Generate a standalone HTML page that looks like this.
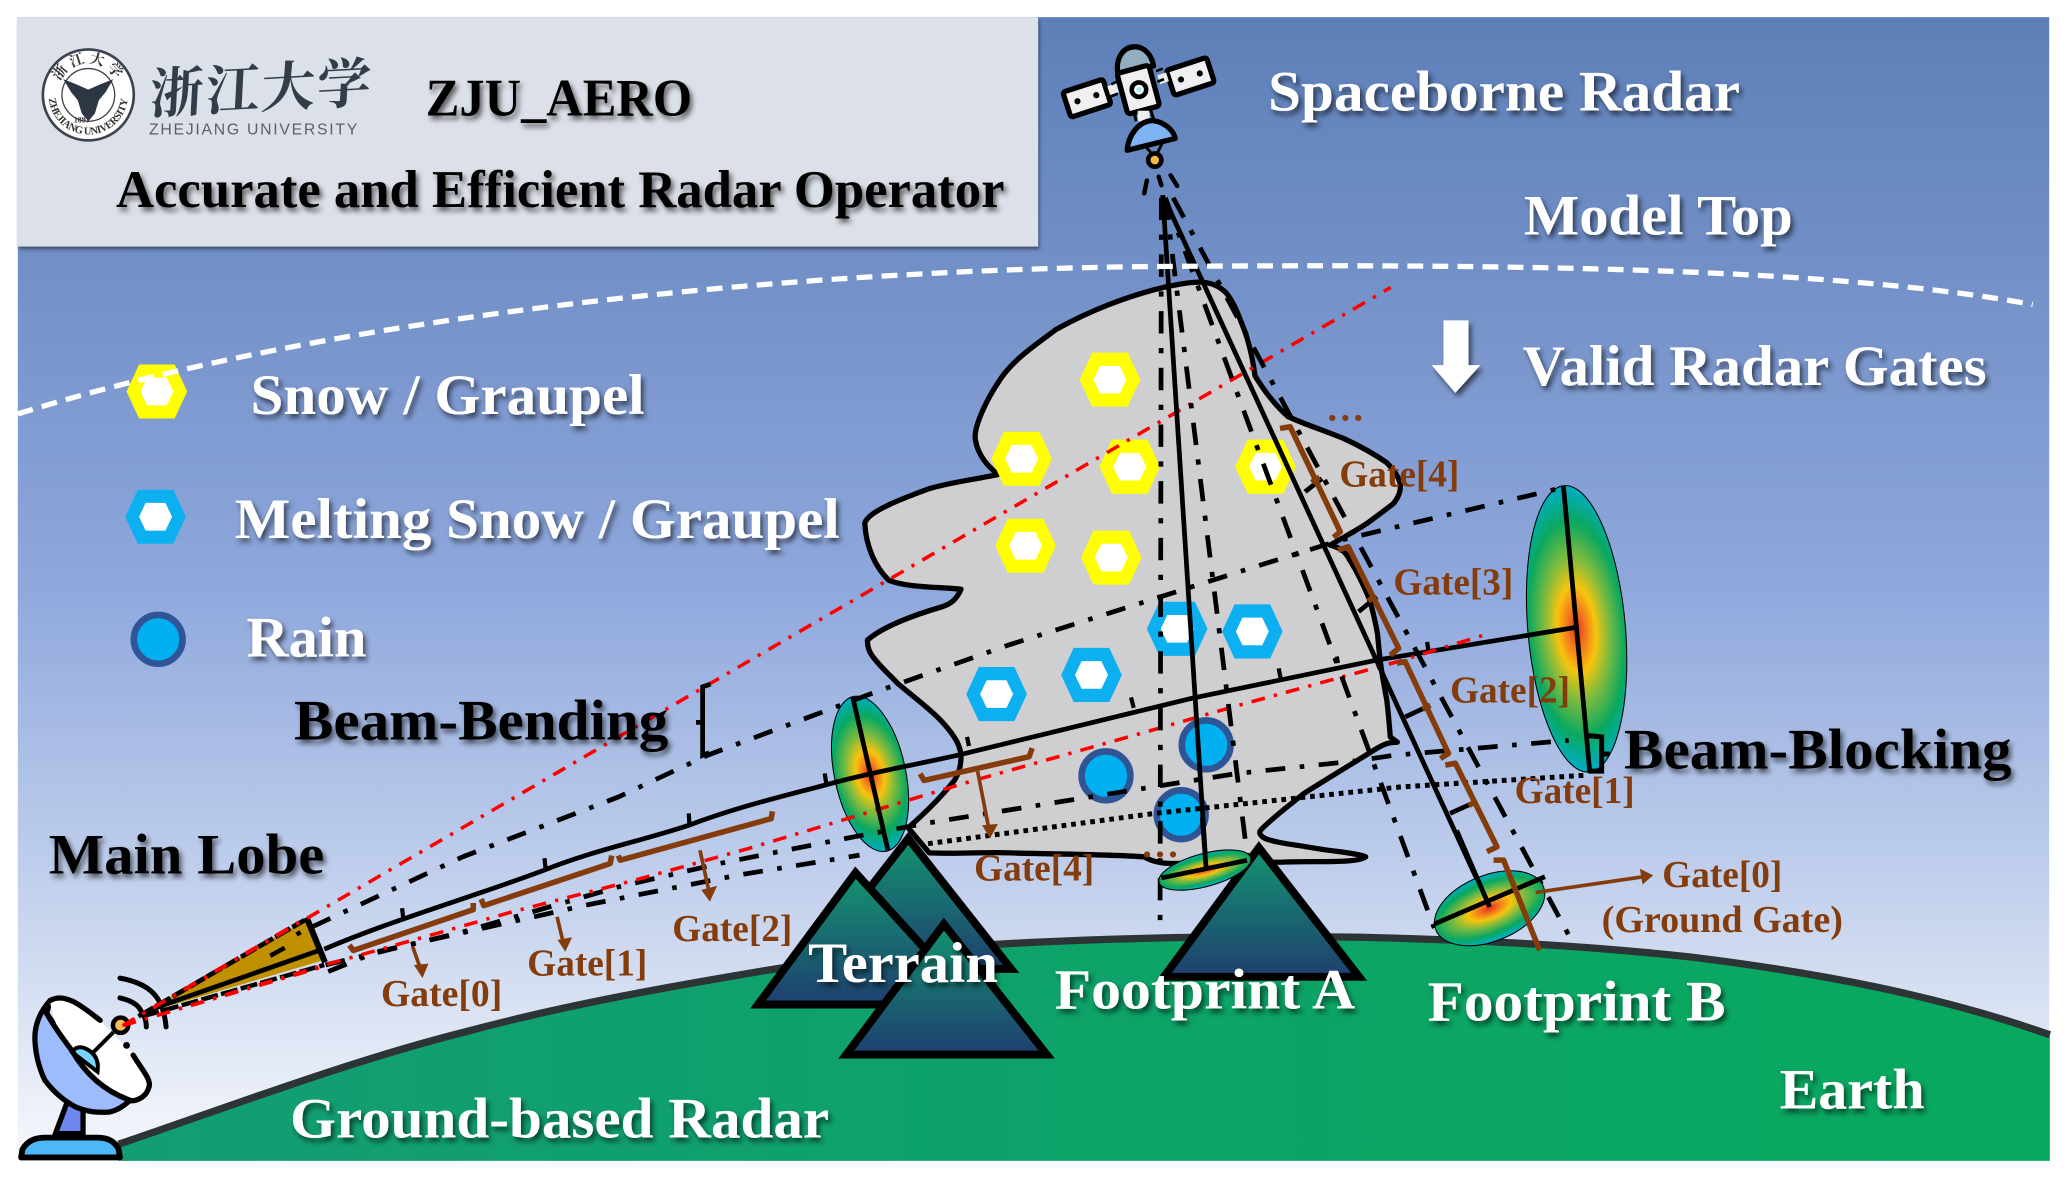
<!DOCTYPE html>
<html><head><meta charset="utf-8"><style>
html,body{margin:0;padding:0;background:#fff}
svg{display:block}
text{font-family:"Liberation Serif","Noto Serif CJK SC",serif;font-weight:bold}
.w{fill:#fff;filter:url(#ts)}
.k{fill:#000;filter:url(#ts)}
.g{fill:#843c0c;font-size:29px}
.br{fill:none;stroke:#843c0c;stroke-width:4.2;stroke-linejoin:round}
.ar{fill:none;stroke:#843c0c;stroke-width:2.8}
.dd{fill:none;stroke:#000;stroke-width:3.6;stroke-dasharray:15 11 3.5 11}
.dd2{fill:none;stroke:#000;stroke-width:3.6;stroke-dasharray:17 11 4 11}
.rd{fill:none;stroke:#f00;stroke-width:2.7;stroke-dasharray:10.5 7 2.5 7}
.sl{fill:none;stroke:#000;stroke-width:3.6}
</style></head><body>
<svg xmlns="http://www.w3.org/2000/svg" width="2067" height="1178" viewBox="0 0 1568 893.6">
<defs>
<linearGradient id="sky" x1="0" y1="0" x2="0" y2="1">
<stop offset="0" stop-color="#5d7fb8"/><stop offset=".27" stop-color="#7794cb"/><stop offset=".5" stop-color="#8fa8dd"/><stop offset=".75" stop-color="#c0cfec"/><stop offset="1" stop-color="#f6f8fc"/>
</linearGradient>
<linearGradient id="earth" x1="0" y1="0" x2="1" y2="0"><stop offset="0" stop-color="#139d74"/><stop offset="1" stop-color="#08a95e"/></linearGradient>
<linearGradient id="mt" x1="0" y1="0" x2="0" y2="1"><stop offset="0" stop-color="#13946f"/><stop offset="1" stop-color="#1f3f70"/></linearGradient>
<radialGradient id="rg" gradientTransform="translate(.5 .5) scale(1.3 1) translate(-.5 -.5)"><stop offset="0" stop-color="#e8301c"/><stop offset=".14" stop-color="#f2761e"/><stop offset=".3" stop-color="#f7c40e"/><stop offset=".5" stop-color="#7fbb3f"/><stop offset=".75" stop-color="#0aa85f"/><stop offset="1" stop-color="#00aec8"/></radialGradient>
<filter id="ts" x="-10%" y="-30%" width="120%" height="170%"><feDropShadow dx="2" dy="3" stdDeviation="2" flood-color="#000" flood-opacity=".6"/></filter>
<filter id="ps" x="-2%" y="-5%" width="104%" height="110%"><feDropShadow dx="1" dy="2" stdDeviation="1.2" flood-color="#223" flood-opacity=".6"/></filter>
<g id="hy"><polygon points="-23,0 -13.5,-20.5 13.5,-20.5 23,0 13.5,20.5 -13.5,20.5" fill="#ff0"/><polygon points="-12.5,0 -7.5,-10.5 7.5,-10.5 12.5,0 7.5,10.5 -7.5,10.5" fill="#fff"/></g>
<g id="hb"><polygon points="-23,0 -13.5,-20.5 13.5,-20.5 23,0 13.5,20.5 -13.5,20.5" fill="#0cb0f0"/><polygon points="-12.5,0 -7.5,-10.5 7.5,-10.5 12.5,0 7.5,10.5 -7.5,10.5" fill="#fff"/></g>
<path id="lc" d="M37 72 A30 30 0 0 0 97 72"/>
<path id="lt" d="M43 72 A24 24 0 0 1 91 72"/>
</defs>
<rect x="13.5" y="13" width="1541" height="867.6" fill="url(#sky)"/>
<!-- earth -->
<path d="M90 868 C 178 838 265 805 352 783 C 430 762 510 748 588 735 C 650 725 715 718 781 715 C 860 711 950 710 1032 711 C 1120 713 1200 717 1283 726 C 1380 738 1470 755 1555 785 L1555 880.6 L90 880.6Z" fill="url(#earth)"/>
<path d="M90 868 C 178 838 265 805 352 783 C 430 762 510 748 588 735 C 650 725 715 718 781 715 C 860 711 950 710 1032 711 C 1120 713 1200 717 1283 726 C 1380 738 1470 755 1555 785" fill="none" stroke="#2d3436" stroke-width="5.5"/>
<!-- panel -->
<rect x="13.5" y="13" width="774" height="174" fill="#dce1e9" filter="url(#ps)"/>
<!-- logo -->
<circle cx="67" cy="72" r="34.5" fill="#fff" stroke="#3a4450" stroke-width="2"/>
<circle cx="67" cy="72" r="20" fill="none" stroke="#3a4450" stroke-width="1"/>
<polygon points="48,60 58,64 67,68 76,64 86,60 80,70 75,76 72,86 67,92 62,86 59,76 54,70" fill="#2d3743"/>
<text font-size="8" fill="#333"><textPath href="#lc" startOffset="3%" textLength="88">ZHEJIANG UNIVERSITY</textPath></text>
<text font-size="11" fill="#333"><textPath href="#lt" startOffset="14%">浙 江 大 学</textPath></text>
<text x="56" y="93" font-size="6" fill="#333">1897</text>
<text transform="rotate(-3 112 86) skewX(-6)" x="122" y="86" font-size="41" fill="#333d49" textLength="168" lengthAdjust="spacing">浙江大学</text>
<text x="113" y="102" font-size="12" fill="#5a6068" textLength="158" style="font-family:'Liberation Sans',sans-serif;font-weight:normal">ZHEJIANG  UNIVERSITY</text>
<text class="k" x="323" y="87.5" font-size="40" textLength="202" lengthAdjust="spacingAndGlyphs">ZJU_AERO</text>
<text class="k" x="88" y="157" font-size="40" textLength="674" lengthAdjust="spacingAndGlyphs">Accurate and Efficient Radar Operator</text>
<!-- cloud -->
<path d="M885 217.5 C 856 224, 826 236, 801 250 C 785 262, 770 272, 760 286 C 748 303, 738 325, 740 334 C 742 346, 750 354, 757 360 C 738 364, 720 366, 704 371 C 685 378, 658 388, 656 397 C 657 415, 664 430, 674 440 C 688 446, 712 445, 729 447 C 726 454, 722 458, 714 460.5 C 695 466, 670 475, 658 485.6 C 658 492, 660 495, 662 498 C 668 506, 675 512, 681 518.5 C 695 530, 708 540, 716 549 C 724 558, 729 566, 729 574 C 729 582, 727 587, 724 592 C 713 606, 700 618, 689 628 L 705 647 C 730 648, 750 646, 767 647 C 800 648, 840 648, 868 650 C 875 654, 882 655, 889 655 L 973 654 C 1000 653, 1030 655, 1036 650 C 1030 647, 1010 646, 989 642 C 975 640, 962 638, 958 635 C 954 632, 956 630, 957 629 C 968 618, 978 611, 989 602 C 1008 590, 1028 578, 1044 568 C 1049 565, 1053 563, 1060 563 L 1054.6 559 C 1054 549, 1053 540, 1052 531 C 1049 515, 1047 505, 1045 481 C 1043 470, 1041 462, 1039 455 C 1034 443, 1029 433, 1024 425 C 1021 419, 1018 416, 1009 413.5 C 1020 407, 1028 403, 1037 397 C 1045 391, 1052 386, 1057 382 C 1062 376, 1063 371, 1062 366 C 1060 360, 1056 355, 1052 351 C 1042 344, 1031 338, 1019 332.5 C 1003 326, 990 322, 977 316 C 966 306, 958 295, 952 285 C 950 270, 947 258, 943 248 C 938 235, 935 228, 930 222 C 924 216, 917 214, 910 214 C 900 214, 893 216, 885 217.5Z" fill="#cfced0" stroke="#000" stroke-width="4" stroke-linejoin="round"/>
<!-- hexagons -->
<use href="#hy" x="119" y="297"/><use href="#hy" x="842" y="288"/><use href="#hy" x="775" y="348"/><use href="#hy" x="857" y="354"/><use href="#hy" x="960" y="354"/><use href="#hy" x="778" y="414"/><use href="#hy" x="843" y="423"/>
<use href="#hb" x="118" y="392"/><use href="#hb" x="756" y="526.5"/><use href="#hb" x="828" y="512"/><use href="#hb" x="893" y="477"/><use href="#hb" x="950" y="479"/>
<g fill="#00b0f0" stroke="#2f5597" stroke-width="5">
<ellipse cx="120" cy="485" rx="18.5" ry="18.5"/><ellipse cx="839" cy="588.5" rx="18.5" ry="18.5"/><ellipse cx="915" cy="565" rx="18.5" ry="18.5"/><ellipse cx="896" cy="618" rx="18.5" ry="18.5"/>
</g>
<!-- beam ellipses -->
<ellipse cx="660" cy="587" rx="27" ry="60" transform="rotate(-12 660 587)" fill="url(#rg)" stroke="#000" stroke-width=".8"/>
<ellipse cx="1196" cy="477" rx="37" ry="109" transform="rotate(-5 1196 477)" fill="url(#rg)" stroke="#000" stroke-width=".8"/>
<!-- main lobe -->
<polygon points="105,770 232.6,697 246.5,728" fill="#bf9000"/>
<path d="M232.6 696 L246.5 730" stroke="#000" stroke-width="4.6" fill="none"/>
<path d="M105 771 L231 698" fill="none" stroke="#000" stroke-width="3.6" stroke-dasharray="13 2"/>
<path d="M108 771 L246 732" fill="none" stroke="#000" stroke-width="3.4" stroke-dasharray="13 2.5"/>
<path d="M205 725 L216 719 M225 709 L228 707" stroke="#000" stroke-width="3.4"/>
<!-- beam lines -->
<polyline class="dd" points="237,703 351,650 469,604.6 537,572.8 664.6,524.8 764.8,489.4 956,428.7 1016,410 1185,370"/>
<polyline class="dd" points="247,732 351,707 469,672.8 546,655 636.4,637 702,624.6 867.7,598 938,586.8 1030,577 1057,573 1190,561.6"/>
<polyline class="dd" points="249,737 286,722 367,704 444,686.7 559,664 652,648.7"/>
<polyline points="704,640 876,617 1062,597 1204,588" fill="none" stroke="#000" stroke-width="3.8" stroke-dasharray="3.6 3.7"/>
<!-- solid main -->
<path class="sl" d="M113.8 766 L 242.7 720.8"/>
<path class="sl" d="M246 720 C 300 697, 360 680, 413 660 C 450 645 490 637 522.5 626 C 560 612 590 605 625.6 595.6 C 660 586 695 580 727 572.8 L 904 529.7 L 1044 500.8 L 1195 476"/>
<polyline class="rd" points="93,778 243,733 333,707.6 388.6,691.7 481.5,667.7 568,643.6 642.8,621 732,594 878.6,552.6 932.6,537 1060,502 1125,482"/>
<path class="rd" d="M93 778 L 1055 218"/>
<!-- ticks on main -->
<path d="M305 689 L306 697 M413 651 L414 660 M522.5 617 L523 626 M625.6 586.7 L627 595.6 M733.6 559 L735 566 M858 529 L860 537 M970 507 L971.5 514.6 M1082.6 487 L1083.5 493 M1014 498 L1015 503" stroke="#000" stroke-width="3.2" fill="none"/>
<!-- spaceborne beam -->
<path class="sl" d="M882 148 L 915 659"/>
<path class="dd2" d="M881 150 L 880 704"/>
<path class="dd2" d="M884 150 L 946 648"/>
<path class="sl" d="M884 152 L 1130 688"/>
<path class="dd2" d="M884 150 L 1088 704"/>
<path class="dd2" d="M890 150 L 1192 713"/>
<path d="M990 373 L1002.8 363 M1030.6 464 L1044.5 452.7 M1066 543.8 L1085 535 M1100 617 L1120 608 M1128 684 L1143 672" stroke="#000" stroke-width="3.6" fill="none"/>
<!-- axes of ellipses -->
<path class="sl" d="M646.8 528.6 L673.6 645 M1186 368.7 L1206 586" stroke-width="4"/>
<!-- model top -->
<path d="M13.5 314 C 250 240, 600 203, 900 202 C 1180 200, 1400 205, 1542 231" fill="none" stroke="#fff" stroke-width="4" stroke-dasharray="12 7"/>
<path d="M1205 558 L1215 559 L1215 585 L1205 585 M1215 572 L1221 572" fill="none" stroke="#000" stroke-width="3.8"/>
<!-- beam-bending brace -->
<path d="M539 519 L533 521 L533 573 L538 571 M533 548 L528 548" fill="none" stroke="#000" stroke-width="3.6"/>
<!-- mountains -->
<g stroke="#000" stroke-width="6" stroke-linejoin="miter" fill="url(#mt)">
<polygon points="689,636 612,735 767,735"/>
<polygon points="649,662 575,762 740,762"/>
<polygon points="716,701 642,800 794,800"/>
<polygon points="955,643 883,741 1031,741"/>
</g>
<!-- footprints on top -->
<ellipse cx="914" cy="660" rx="36" ry="12.5" transform="rotate(-15 914 660)" fill="url(#rg)" stroke="#000" stroke-width=".8"/>
<ellipse cx="1130" cy="689" rx="44" ry="25" transform="rotate(-22 1130 689)" fill="url(#rg)" stroke="#000" stroke-width=".8"/>
<path class="sl" d="M881 666 L946 652.6 M1088 701 L1172 665" stroke-width="4"/>
<path class="sl" d="M912 620 L915 659 M1105 630 L1130 688"/>
<!-- gate brackets -->
<g class="br">
<path d="M265 717 L268 721 L359 690 L359 685"/>
<path d="M365 682 L367 687 L463 655 L464 649"/>
<path d="M469 649 L470.5 652.5 L585 621 L586 615.5"/>
<path d="M698 587 L701 592 L780.7 574 L783 567.5"/>
<path d="M971 325 L978.7 323.7 L1016.7 403.4 L1011.6 407.6"/>
<path d="M1015 417.3 L1022.8 414.8 L1061 491.8 L1054.6 497"/>
<path d="M1059.7 503 L1066 502 L1098.8 571.5 L1092.7 575.4"/>
<path d="M1096.4 580.4 L1104 579 L1135.6 642.4 L1128 646"/>
<path d="M1133 652.5 L1140.6 652.5 L1168 721"/>
<path d="M1001 362 L995 366 M1043 452 L1038 456 M1085 535 L1079 538 M1120 608 L1114 611"/>
</g>
<g class="ar">
<path d="M313 718 L319 735"/><path d="M422.6 695.5 L427.5 716"/><path d="M531 645 L538 677"/><path d="M741.6 585 L750 628"/><path d="M1165 677 L1247 665"/>
</g>
<g fill="#843c0c">
<polygon points="314,732 325,731 320.5,742"/><polygon points="423,713 434,711 428.8,722"/><polygon points="532,675 544,672 538.5,684"/><polygon points="745,626 757,625 751,636"/><polygon points="1244,659 1254,664 1246,671"/>
</g>
<!-- satellite -->
<g stroke="#000" stroke-width="4" stroke-linejoin="round">
<g transform="rotate(-18 824.5 74.5)"><rect x="808.5" y="64.5" width="32" height="20" rx="2" fill="#f2eff2"/><circle cx="817" cy="74.5" r="1.6" fill="#000" stroke-width="1.5"/><circle cx="832" cy="74.5" r="1.6" fill="#000" stroke-width="1.5"/></g>
<g transform="rotate(-18 903 58)"><rect x="887" y="48" width="32" height="20" rx="2" fill="#f2eff2"/><circle cx="895.5" cy="58" r="1.6" fill="#000" stroke-width="1.5"/><circle cx="910.5" cy="58" r="1.6" fill="#000" stroke-width="1.5"/></g>
<rect x="841" y="64" width="7" height="7" fill="#eee" stroke-width="0" transform="rotate(-18 845 68)"/>
<rect x="879" y="56" width="7" height="7" fill="#eee" stroke-width="0" transform="rotate(-18 882 60)"/>
<path d="M843 73 L848 71 M843 64 L847 62 M878 62 L883 60 M877 54 L882 52" stroke-width="2"/>
<path d="M848 56 C 846 44, 852 36, 860 35.5 C 868 35, 874 42, 875 50 Z" fill="#93aec0"/>
<rect x="851" y="52" width="25" height="32" rx="2.5" fill="#f2eff2" transform="rotate(-15 863.5 68)"/>
<circle cx="864" cy="68" r="5.5" fill="#fff" stroke-width="3.5"/><circle cx="864" cy="68" r="2" fill="#a0f0f0" stroke-width="0"/>
<rect x="863" y="84" width="9" height="8" fill="#eee" stroke-width="0"/>
<path d="M860 84 L862 92 M872 81 L875 90" stroke-width="2.4"/>
<path d="M855 114 C 856 102, 864 92, 874 91.5 C 882 92, 890 98, 891.5 105 Z" fill="#7fb4f4"/>
<path d="M868 110 L875 118 M882 108 L877 118" fill="none" stroke-width="2.2"/>
<circle cx="876" cy="121.4" r="5" fill="#f5bb3a" stroke-width="3.5"/>
</g>
<path d="M870 137 L868 146.6 M879 134 L881 140.4 M888 133 L893 141" stroke="#000" stroke-width="3.4" stroke-linecap="round" fill="none"/>
<!-- ground radar -->
<polygon points="51,836 63,838 63,860 42,860" fill="#6f87f0" stroke="#000" stroke-width="4"/>
<path d="M16 878 L17 872 Q 22 863 34 863 L74 863 Q 86 863 90 872 L91 878Z" fill="#4db8f8" stroke="#000" stroke-width="4.4" stroke-linejoin="round"/>
<path d="M35.4 768.7 L38 759 C 30 768, 26 778, 26.5 789 C 27 800, 30 811, 34 819.4 C 42 830, 50 836, 58 840 C 68 844, 75 844, 83.4 843.5 C 90 842, 95 838, 98.6 834.6 C 80 828, 65 815, 54.4 796.7 Z" fill="#9dbcfb" stroke="#000" stroke-width="4" stroke-linejoin="round"/>
<path d="M38 760 C 50 752, 64 765, 76 774 L 101 800 C 108 812, 116 820, 112 828 C 108 836, 100 836, 98.6 834.6 C 80 828, 65 815, 54.4 796.7 C 47 787, 41 777, 38 760Z" fill="#fff"/>
<path d="M54.5 798 Q 58 793 64 795 Q 76 800 74 813Z" fill="#76d6ff" stroke="#000" stroke-width="3"/>
<path d="M38 759 C 50 752, 64 765, 76 774 M101 800.4 C 108 812, 116 820, 112.5 826 C 110 834, 100 836, 98.6 834.6 C 80 828, 65 815, 54.4 796.7 C 47 787, 40 777, 35.4 768.7" fill="none" stroke="#000" stroke-width="4" stroke-linecap="round"/>
<path d="M71 798 L86 783" stroke="#000" stroke-width="3"/>
<circle cx="96" cy="793" r="2.6" fill="#000"/>
<circle cx="91.5" cy="777.7" r="5.8" fill="#f5bb5a" stroke="#000" stroke-width="3.4"/>
<path d="M91 742 Q 114 746 121 760 Q 125 768 126 779 M91 757 Q 104 760 107 767 Q 111 772 111 779" fill="none" stroke="#000" stroke-width="3.8" stroke-linecap="round"/>
<path class="rd" d="M93 778 L 231 697" stroke-dasharray="7 3 2 3"/>
<path class="rd" d="M93 778 L 246 733" stroke-dasharray="7 3 2 3"/>
<!-- white arrow -->
<polygon points="1095,243 1114,243 1114,277 1123,277 1104,298 1086,277 1095,277" fill="#fff" filter="url(#ts)"/>
<!-- labels -->
<text class="w" x="962" y="84" font-size="43" textLength="358" lengthAdjust="spacingAndGlyphs">Spaceborne Radar</text>
<text class="w" x="1156" y="178" font-size="43" textLength="204" lengthAdjust="spacingAndGlyphs">Model Top</text>
<text class="w" x="1155" y="292" font-size="43" textLength="352" lengthAdjust="spacingAndGlyphs">Valid Radar Gates</text>
<text class="w" x="190" y="314" font-size="43" textLength="299" lengthAdjust="spacingAndGlyphs">Snow / Graupel</text>
<text class="w" x="178" y="408" font-size="43" textLength="459" lengthAdjust="spacingAndGlyphs">Melting Snow / Graupel</text>
<text class="w" x="187" y="498" font-size="43" textLength="91" lengthAdjust="spacingAndGlyphs">Rain</text>
<text class="k" x="223" y="561" font-size="43" textLength="284" lengthAdjust="spacingAndGlyphs">Beam-Bending</text>
<text class="k" x="37" y="662.5" font-size="43" textLength="209" lengthAdjust="spacingAndGlyphs">Main Lobe</text>
<text class="k" x="1232" y="583" font-size="43" textLength="294" lengthAdjust="spacingAndGlyphs">Beam-Blocking</text>
<text class="w" x="613" y="745" font-size="43" textLength="144" lengthAdjust="spacingAndGlyphs">Terrain</text>
<text class="w" x="800" y="765" font-size="43" textLength="228" lengthAdjust="spacingAndGlyphs">Footprint A</text>
<text class="w" x="1083" y="774" font-size="43" textLength="226" lengthAdjust="spacingAndGlyphs">Footprint B</text>
<text class="w" x="220" y="863" font-size="43" textLength="409" lengthAdjust="spacingAndGlyphs">Ground-based Radar</text>
<text class="w" x="1350" y="841" font-size="43" textLength="110" lengthAdjust="spacingAndGlyphs">Earth</text>
<g>
<text class="g" x="289" y="763" textLength="92" lengthAdjust="spacingAndGlyphs">Gate[0]</text>
<text class="g" x="400" y="740" textLength="91" lengthAdjust="spacingAndGlyphs">Gate[1]</text>
<text class="g" x="510" y="714" textLength="91" lengthAdjust="spacingAndGlyphs">Gate[2]</text>
<text class="g" x="739" y="668" textLength="91" lengthAdjust="spacingAndGlyphs">Gate[4]</text>
<text class="g" x="1016" y="369" textLength="91" lengthAdjust="spacingAndGlyphs">Gate[4]</text>
<text class="g" x="1057" y="451" textLength="91" lengthAdjust="spacingAndGlyphs">Gate[3]</text>
<text class="g" x="1100" y="533" textLength="91" lengthAdjust="spacingAndGlyphs">Gate[2]</text>
<text class="g" x="1149" y="609" textLength="91" lengthAdjust="spacingAndGlyphs">Gate[1]</text>
<text class="g" x="1261" y="673" textLength="91" lengthAdjust="spacingAndGlyphs">Gate[0]</text>
<text class="g" x="1215" y="707" textLength="183" lengthAdjust="spacingAndGlyphs">(Ground Gate)</text>
<text class="g" x="1007" y="319" textLength="27" lengthAdjust="spacing">...</text>
<text class="g" x="866.5" y="650" textLength="27" lengthAdjust="spacing">...</text>
</g>
</svg>
</body></html>
